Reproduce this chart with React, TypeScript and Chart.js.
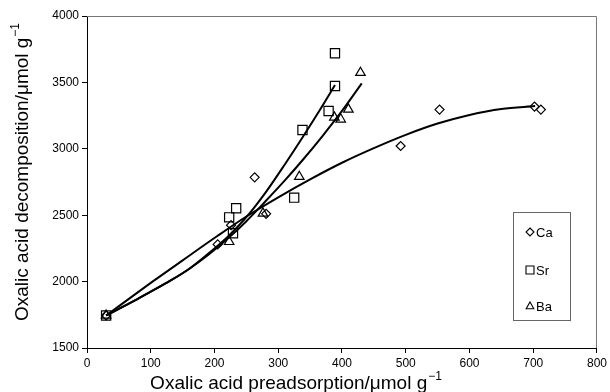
import React, { useEffect, useRef } from 'react';
import { Chart, registerables } from 'chart.js';
Chart.register(...registerables);

// Measured points
const caX = [30, 205, 226, 263, 281, 492, 553, 702, 712];
const caY = [1745, 2280, 2425, 2785, 2510, 3021, 3295, 3318, 3295];
const srX = [30, 223, 229, 234, 325, 338, 379, 389, 389];
const srY = [1745, 2484, 2364, 2552, 2632, 3142, 3285, 3473, 3720];
const baX = [30, 223, 276, 333, 388, 398, 410, 429];
const baY = [1745, 2300, 2514, 2790, 3237, 3222, 3297, 3573];

// Trend curves
const caFitX = [30, 100, 150, 205, 250, 300, 350, 400, 450, 500, 550, 600, 650, 703];
const caFitY = [1745, 1990, 2160, 2345, 2490, 2635, 2770, 2895, 3005, 3105, 3190, 3255, 3300, 3322];
const srFitX = [30, 70, 100, 130, 160, 190, 220, 250, 280, 310, 340, 365, 389];
const srFitY = [1745, 1845, 1925, 2005, 2095, 2210, 2335, 2485, 2670, 2880, 3100, 3290, 3480];
const baFitX = [30, 70, 100, 130, 160, 190, 220, 250, 280, 310, 340, 370, 400, 431];
const baFitY = [1745, 1845, 1925, 2005, 2095, 2200, 2320, 2455, 2605, 2760, 2925, 3100, 3285, 3493];

const seriesNames = ['Ca', 'Sr', 'Ba'];
const xTitle = 'Oxalic acid preadsorption/\u03bcmol g';
const yTitle = 'Oxalic acid decomposition/\u03bcmol g';
const titleSup = '\u22121';

const xMin = 0, xMax = 800, xStep = 100;
const yMin = 1500, yMax = 4000, yStep = 500;

const pts = (xs: number[], ys: number[]) => xs.map((x, i) => ({ x, y: ys[i] }));

function drawShape(ctx: CanvasRenderingContext2D, kind: string, x: number, y: number, r: number) {
  ctx.beginPath();
  if (kind === 'diamond') {
    ctx.moveTo(x, y - r); ctx.lineTo(x + r, y); ctx.lineTo(x, y + r); ctx.lineTo(x - r, y); ctx.closePath();
  } else if (kind === 'square') {
    ctx.rect(x - r, y - r, 2 * r, 2 * r);
  } else {
    ctx.moveTo(x, y - r); ctx.lineTo(x + r * 0.95, y + r * 0.7); ctx.lineTo(x - r * 0.95, y + r * 0.7); ctx.closePath();
  }
  ctx.stroke();
}

const FONT = '"Liberation Sans", Arial, sans-serif';

const decorPlugin = {
  id: 'decor',
  afterDraw(chart: any) {
    const ctx: CanvasRenderingContext2D = chart.ctx;
    const a = chart.chartArea;
    ctx.save();
    // top/right frame
    ctx.strokeStyle = '#777';
    ctx.lineWidth = 1;
    ctx.beginPath();
    ctx.moveTo(a.left, a.top + 0.5); ctx.lineTo(a.right - 0.5, a.top + 0.5); ctx.lineTo(a.right - 0.5, a.bottom);
    ctx.stroke();

    // axis titles
    ctx.fillStyle = '#000';
    ctx.textBaseline = 'alphabetic';
    const main = '19px ' + FONT;
    const sup = '12px ' + FONT;
    ctx.font = main;
    const wx = ctx.measureText(xTitle).width;
    ctx.font = sup;
    const ws = ctx.measureText(titleSup).width;
    const totalX = wx + ws + 1;
    const sx = 296 - totalX / 2;
    ctx.font = main;
    ctx.textAlign = 'left';
    ctx.fillText(xTitle, sx, 389);
    ctx.font = sup;
    ctx.fillText(titleSup, sx + wx + 1, 380);
    // y title
    ctx.save();
    ctx.translate(28, 172);
    ctx.rotate(-Math.PI / 2);
    ctx.font = main;
    const wy = ctx.measureText(yTitle).width;
    const totalY = wy + ws + 1;
    const sy = -totalY / 2;
    ctx.fillText(yTitle, sy, 0);
    ctx.font = sup;
    ctx.fillText(titleSup, sy + wy + 1, -9);
    ctx.restore();

    // legend
    const lx = 513, ly = 212, lw = 57, lh = 108;
    ctx.strokeStyle = '#666';
    ctx.lineWidth = 1;
    ctx.strokeRect(lx + 0.5, ly + 0.5, lw, lh);
    const kinds = ['diamond', 'square', 'triangle'];
    const rows = [232, 270, 306];
    ctx.font = '13px ' + FONT;
    ctx.textBaseline = 'middle';
    ctx.strokeStyle = '#000';
    ctx.lineWidth = 1.1;
    seriesNames.forEach((n, i) => {
      drawShape(ctx, kinds[i], 530, rows[i], 4);
      ctx.fillText(n, 536, rows[i] + 1);
    });
    ctx.restore();
  },
};

export default function App() {
  const ref = useRef<HTMLCanvasElement>(null);
  useEffect(() => {
    if (!ref.current) return;
    const pointBase = {
      showLine: false,
      borderColor: '#000',
      backgroundColor: 'rgba(0,0,0,0)',
      pointBorderWidth: 1.2,
    };
    const lineBase = {
      showLine: true,
      pointRadius: 0,
      borderColor: '#000',
      borderWidth: 2,
      cubicInterpolationMode: 'monotone' as const,
      fill: false,
    };
    const tickFont = { family: FONT, size: 12 };
    const chart = new Chart(ref.current, {
      type: 'scatter',
      data: {
        datasets: [
          { ...lineBase, label: 'Ca fit', data: pts(caFitX, caFitY) },
          { ...lineBase, label: 'Sr fit', data: pts(srFitX, srFitY) },
          { ...lineBase, label: 'Ba fit', data: pts(baFitX, baFitY) },
          { ...pointBase, label: seriesNames[0], data: pts(caX, caY), pointStyle: 'rectRot', pointRadius: 4.5 },
          { ...pointBase, label: seriesNames[1], data: pts(srX, srY), pointStyle: 'rect', pointRadius: 6.5 },
          { ...pointBase, label: seriesNames[2], data: pts(baX, baY), pointStyle: 'triangle', pointRadius: 5.5 },
        ] as any,
      },
      options: {
        animation: false,
        responsive: true,
        maintainAspectRatio: false,
        layout: { padding: { top: 16, right: 11, left: 0, bottom: 0 } },
        plugins: { legend: { display: false }, tooltip: { enabled: false } },
        scales: {
          x: {
            type: 'linear',
            min: xMin, max: xMax,
            ticks: { stepSize: xStep, font: tickFont, color: '#000', padding: 3, callback: (v: any) => String(v) },
            grid: { drawOnChartArea: false, tickLength: 5, color: '#000' },
            border: { color: '#000', width: 1 },
            afterFit: (s: any) => { s.height = 44; },
          },
          y: {
            type: 'linear',
            min: yMin, max: yMax,
            ticks: { stepSize: yStep, font: tickFont, color: '#000', padding: 3, callback: (v: any) => String(v) },
            grid: { drawOnChartArea: false, tickLength: 5, color: '#000' },
            border: { color: '#000', width: 1 },
            afterFit: (s: any) => { s.width = 87; },
          },
        },
      },
      plugins: [decorPlugin],
    });
    return () => chart.destroy();
  }, []);
  return (
    <div style={{ position: 'fixed', left: 0, top: 0, width: 610, height: 392, background: '#fff' }}>
      <canvas ref={ref} />
    </div>
  );
}
